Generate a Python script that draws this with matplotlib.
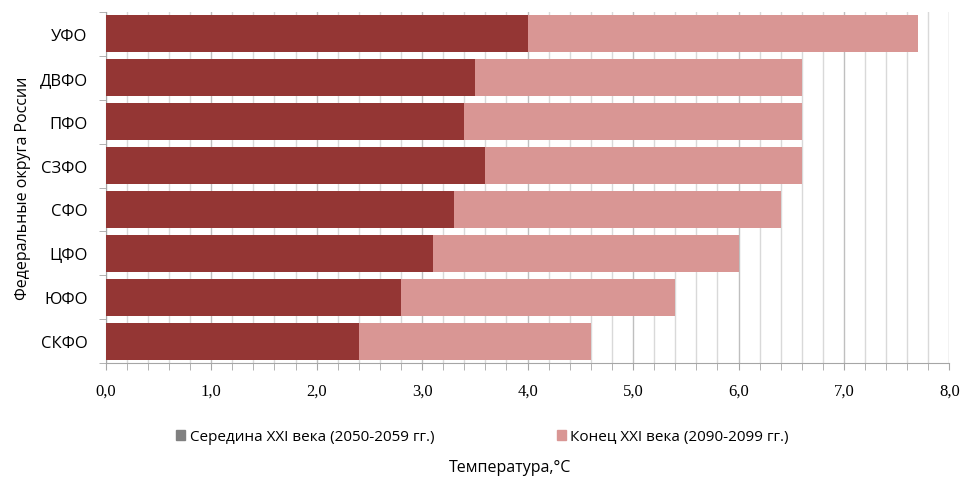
import matplotlib.pyplot as plt
from matplotlib.patches import Patch
from matplotlib.ticker import FixedLocator, MultipleLocator, FuncFormatter

districts = ["УФО", "ДВФО", "ПФО", "СЗФО", "СФО", "ЦФО", "ЮФО", "СКФО"]
mid_century = [4.0, 3.5, 3.4, 3.6, 3.3, 3.1, 2.8, 2.4]
end_century = [7.7, 6.6, 6.6, 6.6, 6.4, 6.0, 5.4, 4.6]
xticks = [0, 1, 2, 3, 4, 5, 6, 7, 8]

dark = "#943634"
light = "#d99694"

fig = plt.figure(figsize=(9.61, 4.81), dpi=100)
ax = fig.add_axes([0.110, 0.243, 0.878, 0.730])

y = list(range(len(districts)))
ax.barh(y, end_century, height=0.84, color=light, zorder=2)
ax.barh(y, mid_century, height=0.84, color=dark, zorder=3)

ax.set_ylim(len(districts) - 0.5, -0.5)
ax.set_xlim(0, 8)

# x axis: comma decimal labels, minor grid every 0.2
ax.xaxis.set_major_locator(FixedLocator(xticks))
ax.xaxis.set_minor_locator(MultipleLocator(0.2))
ax.xaxis.set_major_formatter(FuncFormatter(lambda v, p: f"{v:.1f}".replace(".", ",")))
ax.grid(axis="x", which="major", color="#bfbfbf", linewidth=1.0, zorder=0)
ax.grid(axis="x", which="minor", color="#d9d9d9", linewidth=1.0, zorder=0)
ax.set_axisbelow(True)
ax.tick_params(axis="x", which="both", direction="out", length=5, color="#a6a6a6",
               labelsize=12, pad=9)
for lbl in ax.get_xticklabels():
    lbl.set_fontfamily("Liberation Serif")

# y axis: category names, ticks between categories
ax.set_yticks(y)
ax.set_yticklabels(districts, fontsize=12, fontfamily="Open Sans")
ax.yaxis.set_minor_locator(FixedLocator([i - 0.5 for i in range(len(districts) + 1)]))
ax.tick_params(axis="y", which="major", length=0, pad=13)
ax.tick_params(axis="y", which="minor", length=5, color="#a6a6a6")

for side in ("top", "right"):
    ax.spines[side].set_visible(False)
for side in ("left", "bottom"):
    ax.spines[side].set_color("#a6a6a6")

ax.set_ylabel("Федеральные округа России", fontsize=11.5, fontfamily="Open Sans", labelpad=6)

handles = [Patch(color="#808080"), Patch(color=light)]
labels = ["Середина XXI века (2050-2059 гг.)", "Конец XXI века (2090-2099 гг.)"]
fig.legend(handles, labels, loc="center", bbox_to_anchor=(0.502, 0.09), ncol=2,
           frameon=False, prop={"family": "Open Sans", "size": 11},
           handlelength=0.6, handleheight=0.6, handletextpad=0.3, columnspacing=8)

fig.text(0.531, 0.028, "Температура,°C", ha="center", va="center",
         fontsize=11.5, fontfamily="Open Sans")

fig.savefig("out.png", dpi=100)
